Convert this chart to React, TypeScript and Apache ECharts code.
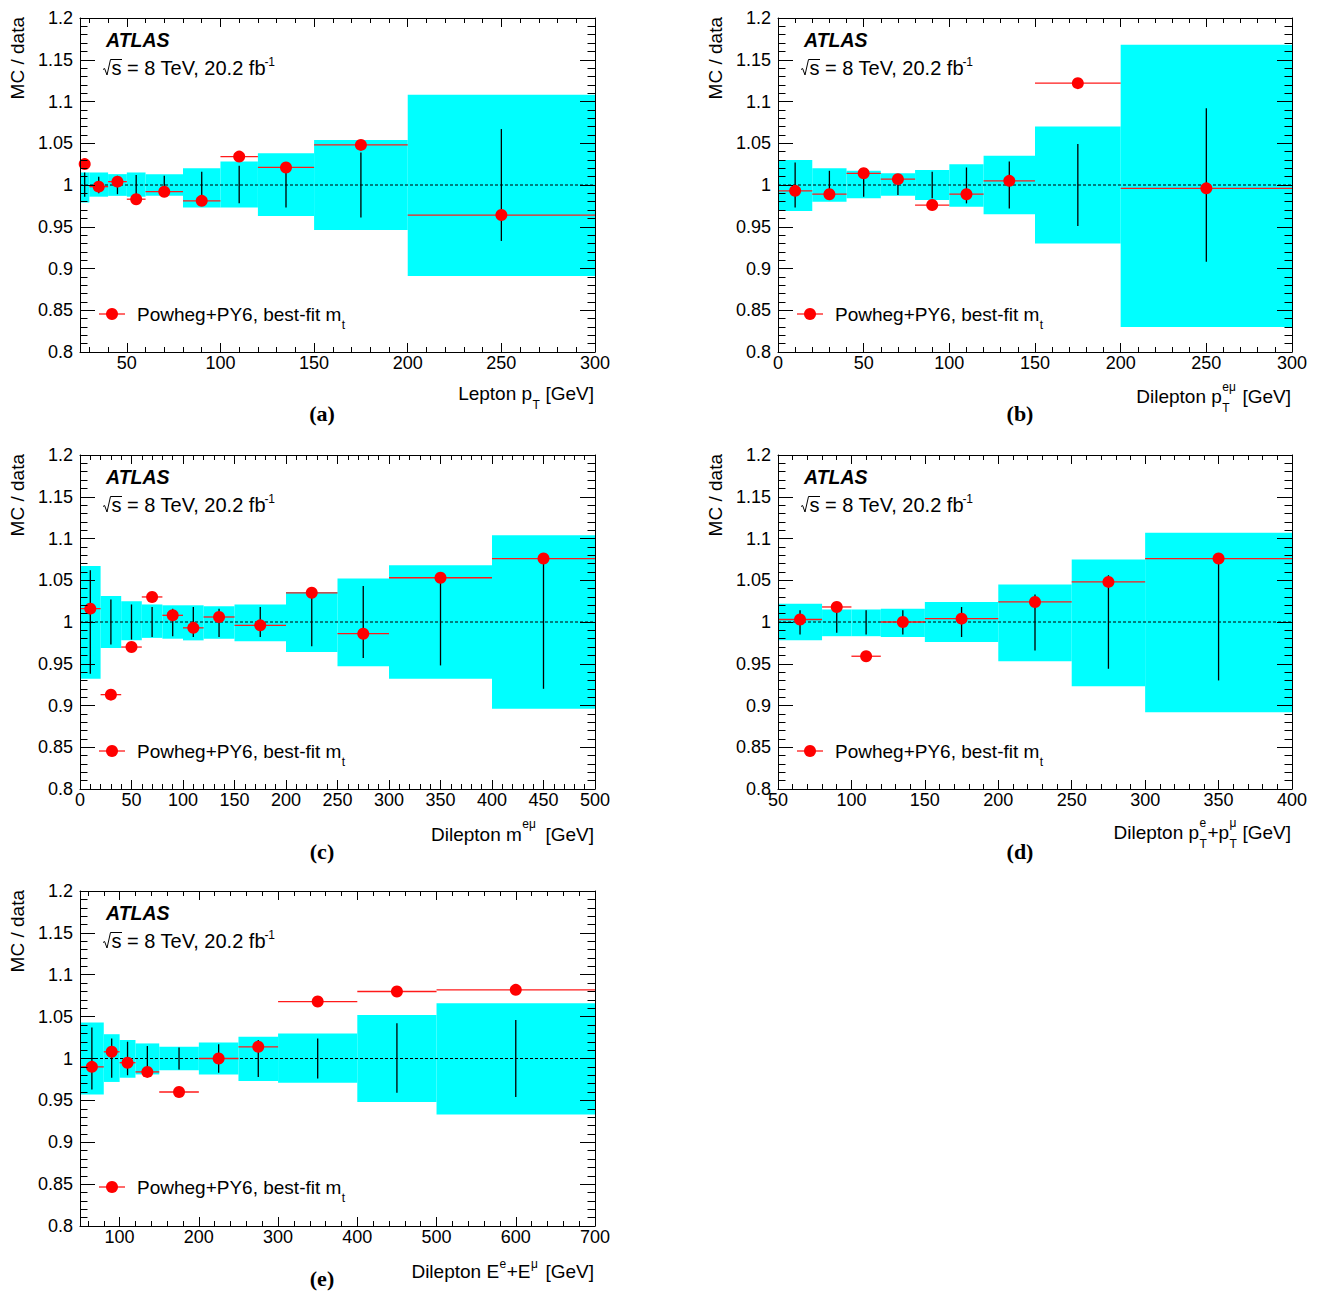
import React, { useEffect, useRef } from "react";
import * as echarts from "echarts";

const FONT = "Liberation Sans, Arial, Helvetica, sans-serif";
const SERIF = "Liberation Serif, Times New Roman, serif";

// ---------------- data ----------------
// (a) Lepton pT
const aEdges = [25, 30, 40, 50, 60, 80, 100, 120, 150, 200, 300];
const aVal = [1.025, 0.998, 1.004, 0.983, 0.992, 0.981, 1.034, 1.021, 1.048, 0.964];
const aBandLo = [0.979, 0.986, 0.987, 0.986, 0.987, 0.973, 0.973, 0.963, 0.946, 0.891];
const aBandHi = [1.015, 1.015, 1.013, 1.015, 1.013, 1.02, 1.028, 1.038, 1.054, 1.108];
const aErrLo = [0.986, 0.99, 0.989, 0.976, 0.987, 0.983, 0.978, 0.973, 0.961, 0.933];
const aErrHi = [1.015, 1.01, 1.011, 1.012, 1.011, 1.016, 1.023, 1.027, 1.039, 1.067];

// (b) Dilepton pT^{eμ}
const bEdges = [0, 20, 40, 60, 80, 100, 120, 150, 200, 300];
const bVal = [0.993, 0.989, 1.014, 1.007, 0.976, 0.989, 1.005, 1.122, 0.996];
const bBandLo = [0.969, 0.98, 0.984, 0.987, 0.982, 0.974, 0.965, 0.93, 0.83];
const bBandHi = [1.03, 1.02, 1.017, 1.014, 1.018, 1.025, 1.035, 1.07, 1.168];
const bErrLo = [0.973, 0.983, 0.986, 0.988, 0.984, 0.978, 0.972, 0.951, 0.908];
const bErrHi = [1.027, 1.017, 1.014, 1.012, 1.016, 1.021, 1.028, 1.049, 1.092];

// (c) Dilepton m^{eμ}
const cEdges = [0, 20, 40, 60, 80, 100, 120, 150, 200, 250, 300, 400, 500];
const cVal = [1.016, 0.913, 0.97, 1.03, 1.008, 0.993, 1.006, 0.996, 1.035, 0.986, 1.053, 1.076];
const cBandLo = [0.932, 0.969, 0.978, 0.981, 0.98, 0.978, 0.98, 0.977, 0.964, 0.947, 0.932, 0.896];
const cBandHi = [1.067, 1.031, 1.025, 1.021, 1.02, 1.02, 1.019, 1.021, 1.036, 1.052, 1.068, 1.104];
const cErrLo = [0.938, 0.973, 0.979, 0.982, 0.983, 0.982, 0.982, 0.982, 0.971, 0.957, 0.948, 0.92];
const cErrHi = [1.062, 1.027, 1.021, 1.018, 1.016, 1.018, 1.016, 1.018, 1.03, 1.043, 1.052, 1.08];

// (d) Dilepton pT^e + pT^μ
const dEdges = [50, 80, 100, 120, 150, 200, 250, 300, 400];
const dVal = [1.003, 1.018, 0.959, 1.0, 1.004, 1.024, 1.048, 1.076];
const dBandLo = [0.978, 0.983, 0.983, 0.982, 0.976, 0.953, 0.923, 0.892];
const dBandHi = [1.022, 1.015, 1.015, 1.016, 1.024, 1.045, 1.075, 1.107];
const dErrLo = [0.985, 0.987, 0.985, 0.985, 0.982, 0.966, 0.944, 0.93];
const dErrHi = [1.014, 1.014, 1.014, 1.014, 1.018, 1.033, 1.056, 1.07];

// (e) Dilepton E^e + E^μ
const eEdges = [50, 80, 100, 120, 150, 200, 250, 300, 400, 500, 700];
const eVal = [0.99, 1.008, 0.995, 0.984, 0.96, 1.0, 1.014, 1.068, 1.08, 1.082];
const eBandLo = [0.957, 0.972, 0.977, 0.981, 0.986, 0.981, 0.973, 0.971, 0.948, 0.933];
const eBandHi = [1.043, 1.029, 1.022, 1.018, 1.014, 1.019, 1.026, 1.03, 1.052, 1.066];
const eErrLo = [0.963, 0.977, 0.98, 0.978, 0.987, 0.983, 0.978, 0.976, 0.959, 0.954];
const eErrHi = [1.037, 1.024, 1.02, 1.015, 1.013, 1.017, 1.022, 1.024, 1.042, 1.046];

// tick labels
const yTicks = [0.8, 0.85, 0.9, 0.95, 1, 1.05, 1.1, 1.15, 1.2];
const aXTicks = [50, 100, 150, 200, 250, 300];
const bXTicks = [0, 50, 100, 150, 200, 250, 300];
const cXTicks = [0, 50, 100, 150, 200, 250, 300, 350, 400, 450, 500];
const dXTicks = [50, 100, 150, 200, 250, 300, 350, 400];
const eXTicks = [100, 200, 300, 400, 500, 600, 700];

const legendText = "Powheg+PY6, best-fit m";

type Seg = { t?: string; sub?: string; sup?: string; supDy?: number; gap?: number };

const panels = [
  {
    edges: aEdges, val: aVal, bandLo: aBandLo, bandHi: aBandHi, errLo: aErrLo, errHi: aErrHi,
    xMin: 25, xMax: 300, xTicks: aXTicks, minorStep: 10, majorStep: 50,
    title: [{ t: "Lepton p" }, { sub: "T" }, { gap: 5 }, { t: "[GeV]" }] as Seg[],
    label: "(a)", left: 80, top: 18, width: 515, height: 334, titleY: 393.5, labelY: 413,
  },
  {
    edges: bEdges, val: bVal, bandLo: bBandLo, bandHi: bBandHi, errLo: bErrLo, errHi: bErrHi,
    xMin: 0, xMax: 300, xTicks: bXTicks, minorStep: 10, majorStep: 50,
    title: [{ t: "Dilepton p" }, { sub: "T", sup: "eμ" }, { gap: 6 }, { t: "[GeV]" }] as Seg[],
    label: "(b)", left: 778, top: 18, width: 514, height: 334, titleY: 396.5, labelY: 413,
  },
  {
    edges: cEdges, val: cVal, bandLo: cBandLo, bandHi: cBandHi, errLo: cErrLo, errHi: cErrHi,
    xMin: 0, xMax: 500, xTicks: cXTicks, minorStep: 10, majorStep: 50,
    title: [{ t: "Dilepton m" }, { sup: "eμ", supDy: -11 }, { gap: 9 }, { t: "[GeV]" }] as Seg[],
    label: "(c)", left: 80, top: 455, width: 515, height: 334, titleY: 834.5, labelY: 851,
  },
  {
    edges: dEdges, val: dVal, bandLo: dBandLo, bandHi: dBandHi, errLo: dErrLo, errHi: dErrHi,
    xMin: 50, xMax: 400, xTicks: dXTicks, minorStep: 10, majorStep: 50,
    title: [{ t: "Dilepton p" }, { sub: "T", sup: "e" }, { t: "+p" }, { sub: "T", sup: "μ" }, { gap: 5 }, { t: "[GeV]" }] as Seg[],
    label: "(d)", left: 778, top: 455, width: 514, height: 334, titleY: 832.5, labelY: 851,
  },
  {
    edges: eEdges, val: eVal, bandLo: eBandLo, bandHi: eBandHi, errLo: eErrLo, errHi: eErrHi,
    xMin: 50, xMax: 700, xTicks: eXTicks, minorStep: 20, majorStep: 100,
    title: [{ t: "Dilepton E" }, { sup: "e", supDy: -7 }, { t: "+E" }, { sup: "μ", supDy: -7 }, { gap: 7 }, { t: "[GeV]" }] as Seg[],
    label: "(e)", left: 80, top: 891, width: 515, height: 335, titleY: 1271, labelY: 1278,
  },
];

function makeMeasure() {
  const canvas = document.createElement("canvas");
  const ctx = canvas.getContext("2d")!;
  return (text: string, size: number, weight = "normal", style = "normal", fam = FONT) => {
    ctx.font = `${style} ${weight} ${size}px ${fam}`;
    return ctx.measureText(text).width;
  };
}

function txt(x: number, y: number, text: string, size: number, o: any = {}) {
  return {
    type: "text",
    x,
    y,
    rotation: o.rotation || 0,
    silent: true,
    z: 100,
    style: {
      text,
      fontSize: size,
      fontFamily: o.family || FONT,
      fontWeight: o.weight || "normal",
      fontStyle: o.style || "normal",
      fill: "#000",
      textAlign: o.align || "left",
      textVerticalAlign: "middle",
    },
  };
}

function layoutSegs(segs: Seg[], x: number, y: number, align: "left" | "right", size: number, subSize: number, measure: any) {
  const widths = segs.map((s) => {
    if (s.t !== undefined) return measure(s.t, size);
    if (s.gap !== undefined) return s.gap;
    return Math.max(s.sub ? measure(s.sub, subSize) : 0, s.sup ? measure(s.sup, subSize) : 0) + 1;
  });
  const total = widths.reduce((a: number, b: number) => a + b, 0);
  let cx = align === "right" ? x - total : x;
  const els: any[] = [];
  segs.forEach((s, k) => {
    if (s.t !== undefined) els.push(txt(cx, y, s.t, size));
    else if (s.gap === undefined) {
      if (s.sub) els.push(txt(cx + 0.5, y + 11, s.sub, subSize));
      if (s.sup) els.push(txt(cx + 0.5, y + (s.supDy ?? -10), s.sup, subSize));
    }
    cx += widths[k];
  });
  return els;
}

function minorList(min: number, max: number, step: number, major: number) {
  const out: number[] = [];
  for (let v = Math.ceil(min / step) * step; v <= max; v += step) if (v % major !== 0) out.push(v);
  return out;
}

function buildOption(measure: any) {
  const grid: any[] = [];
  const xAxis: any[] = [];
  const yAxis: any[] = [];
  const series: any[] = [];
  const graphic: any[] = [];

  const yMinor: number[] = [];
  for (let k = 80; k <= 120; k++) if (k % 5 !== 0) yMinor.push(k / 100);

  const lineStyle = { color: "#000", width: 1 };
  const tickStyle = { color: "#000", width: 1 };

  panels.forEach((p, i) => {
    grid.push({ left: p.left, top: p.top, width: p.width, height: p.height, containLabel: false });
    const xMinor = minorList(p.xMin, p.xMax, p.minorStep, p.majorStep);
    const bx = { type: "value", gridIndex: i, min: p.xMin, max: p.xMax, splitLine: { show: false }, z: 10, minorTick: { show: false } };
    xAxis.push({
      ...bx, position: "bottom",
      axisLine: { show: true, onZero: false, lineStyle },
      axisTick: { show: true, inside: true, length: 9, customValues: p.xTicks, lineStyle: tickStyle },
      axisLabel: { show: true, customValues: p.xTicks, margin: 2, fontSize: 18, fontFamily: FONT, color: "#000", showMinLabel: true, showMaxLabel: true },
    });
    xAxis.push({
      ...bx, position: "bottom",
      axisLine: { show: false, onZero: false },
      axisTick: { show: true, inside: true, length: 5, customValues: xMinor, lineStyle: tickStyle },
      axisLabel: { show: false },
    });
    xAxis.push({
      ...bx, position: "top",
      axisLine: { show: true, onZero: false, lineStyle },
      axisTick: { show: true, inside: true, length: 9, customValues: p.xTicks, lineStyle: tickStyle },
      axisLabel: { show: false },
    });
    xAxis.push({
      ...bx, position: "top",
      axisLine: { show: false, onZero: false },
      axisTick: { show: true, inside: true, length: 5, customValues: xMinor, lineStyle: tickStyle },
      axisLabel: { show: false },
    });

    const by = { type: "value", gridIndex: i, min: 0.8, max: 1.2, splitLine: { show: false }, z: 10, minorTick: { show: false } };
    yAxis.push({
      ...by, position: "left",
      axisLine: { show: true, onZero: false, lineStyle },
      axisTick: { show: true, inside: true, length: 15, customValues: yTicks, lineStyle: tickStyle },
      axisLabel: {
        show: true, customValues: yTicks, margin: 7, fontSize: 18, fontFamily: FONT, color: "#000",
        showMinLabel: true, showMaxLabel: true,
        formatter: (v: number) => String(parseFloat(Number(v).toFixed(2))),
      },
    });
    yAxis.push({
      ...by, position: "left",
      axisLine: { show: false, onZero: false },
      axisTick: { show: true, inside: true, length: 7.5, customValues: yMinor, lineStyle: tickStyle },
      axisLabel: { show: false },
    });
    yAxis.push({
      ...by, position: "right",
      axisLine: { show: true, onZero: false, lineStyle },
      axisTick: { show: true, inside: true, length: 15, customValues: yTicks, lineStyle: tickStyle },
      axisLabel: { show: false },
    });
    yAxis.push({
      ...by, position: "right",
      axisLine: { show: false, onZero: false },
      axisTick: { show: true, inside: true, length: 7.5, customValues: yMinor, lineStyle: tickStyle },
      axisLabel: { show: false },
    });

    const xi = 4 * i;
    const nb = p.val.length;
    const bandData: number[][] = [];
    const errData: number[][] = [];
    const hbarData: number[][] = [];
    const ptData: number[][] = [];
    for (let k = 0; k < nb; k++) {
      const x0 = p.edges[k];
      const x1 = p.edges[k + 1];
      const xc = (x0 + x1) / 2;
      bandData.push([x0, x1, p.bandLo[k], p.bandHi[k]]);
      errData.push([xc, p.errLo[k], p.errHi[k]]);
      hbarData.push([x0, x1, p.val[k]]);
      ptData.push([xc, p.val[k]]);
    }

    series.push({
      type: "custom", xAxisIndex: xi, yAxisIndex: xi, z: 1, silent: true,
      data: bandData, encode: { x: [0, 1], y: [2, 3] },
      renderItem: (params: any, api: any) => {
        const p0 = api.coord([api.value(0), api.value(3)]);
        const p1 = api.coord([api.value(1), api.value(2)]);
        return { type: "rect", shape: { x: p0[0], y: p0[1], width: p1[0] - p0[0], height: p1[1] - p0[1] }, style: { fill: "#00ffff" } };
      },
    });
    series.push({
      type: "line", xAxisIndex: xi, yAxisIndex: xi, z: 2, silent: true, showSymbol: false, symbol: "none",
      data: [[p.xMin, 1], [p.xMax, 1]],
      lineStyle: { color: "#000", width: 1, type: [3, 2] },
    });
    series.push({
      type: "custom", xAxisIndex: xi, yAxisIndex: xi, z: 3, silent: true,
      data: errData, encode: { x: 0, y: [1, 2] },
      renderItem: (params: any, api: any) => {
        const a = api.coord([api.value(0), api.value(1)]);
        const b = api.coord([api.value(0), api.value(2)]);
        return { type: "line", shape: { x1: a[0], y1: a[1], x2: b[0], y2: b[1] }, style: { stroke: "#000", lineWidth: 1.3 } };
      },
    });
    series.push({
      type: "custom", xAxisIndex: xi, yAxisIndex: xi, z: 4, silent: true,
      data: hbarData, encode: { x: [0, 1], y: 2 },
      renderItem: (params: any, api: any) => {
        const a = api.coord([api.value(0), api.value(2)]);
        const b = api.coord([api.value(1), api.value(2)]);
        return { type: "line", shape: { x1: a[0], y1: a[1], x2: b[0], y2: b[1] }, style: { stroke: "#ff1a1a", lineWidth: 1.3 } };
      },
    });
    series.push({
      type: "scatter", xAxisIndex: xi, yAxisIndex: xi, z: 5, silent: true,
      data: ptData, symbol: "circle", symbolSize: 12,
      itemStyle: { color: "#ff0000", opacity: 1 },
    });

    // ---- annotations ----
    const L = p.left;
    const T = p.top;
    graphic.push(txt(L + 26, T + 21.5, "ATLAS", 19.5, { weight: "bold", style: "italic" }));
    const cy = T + 50;
    const x0 = L + 23;
    const fs = 20;
    const sW = measure("s", fs);
    graphic.push({
      type: "polyline", silent: true, z: 100,
      shape: { points: [[x0, cy + 1.5], [x0 + 1.6, cy + 0.5], [x0 + 4, cy + 7], [x0 + 7.5, cy - 8.5], [x0 + 8.5 + sW + 0.5, cy - 8.5]] },
      style: { stroke: "#000", lineWidth: 1, fill: null },
    });
    const mainStr = "s = 8 TeV, 20.2 fb";
    graphic.push(txt(x0 + 8.5, cy, mainStr, fs));
    graphic.push(txt(x0 + 8.5 + measure(mainStr, fs) - 1.5, cy - 6, "-1", 12));

    // legend
    const lx = L + 32;
    const ly = T + 296;
    graphic.push({ type: "line", silent: true, z: 100, shape: { x1: lx - 13, y1: ly, x2: lx + 13, y2: ly }, style: { stroke: "#ff1a1a", lineWidth: 1.3 } });
    graphic.push({ type: "circle", silent: true, z: 101, shape: { cx: lx, cy: ly, r: 6 }, style: { fill: "#ff0000" } });
    graphic.push(...layoutSegs([{ t: legendText }, { sub: "t" }], L + 57, ly, "left", 19, 12, measure));

    // y title
    graphic.push(txt(L - 63, T - 1, "MC / data", 19, { rotation: Math.PI / 2, align: "right" }));

    // x title
    graphic.push(...layoutSegs(p.title, L + p.width - 1, p.titleY, "right", 19, 12, measure));

    // panel label
    graphic.push(txt(L + 242, p.labelY, p.label, 22, { family: SERIF, weight: "bold", align: "center" }));
  });

  return { animation: false, backgroundColor: "#ffffff", grid, xAxis, yAxis, series, graphic };
}

export default function App() {
  const ref = useRef<HTMLDivElement>(null);
  useEffect(() => {
    if (!ref.current) return;
    const chart = echarts.init(ref.current, undefined, { renderer: "svg" });
    chart.setOption(buildOption(makeMeasure()) as any);
    return () => chart.dispose();
  }, []);
  return (
    <div
      ref={ref}
      style={{ position: "absolute", left: 0, top: 0, width: 1320, height: 1293, background: "#fff" }}
    />
  );
}
